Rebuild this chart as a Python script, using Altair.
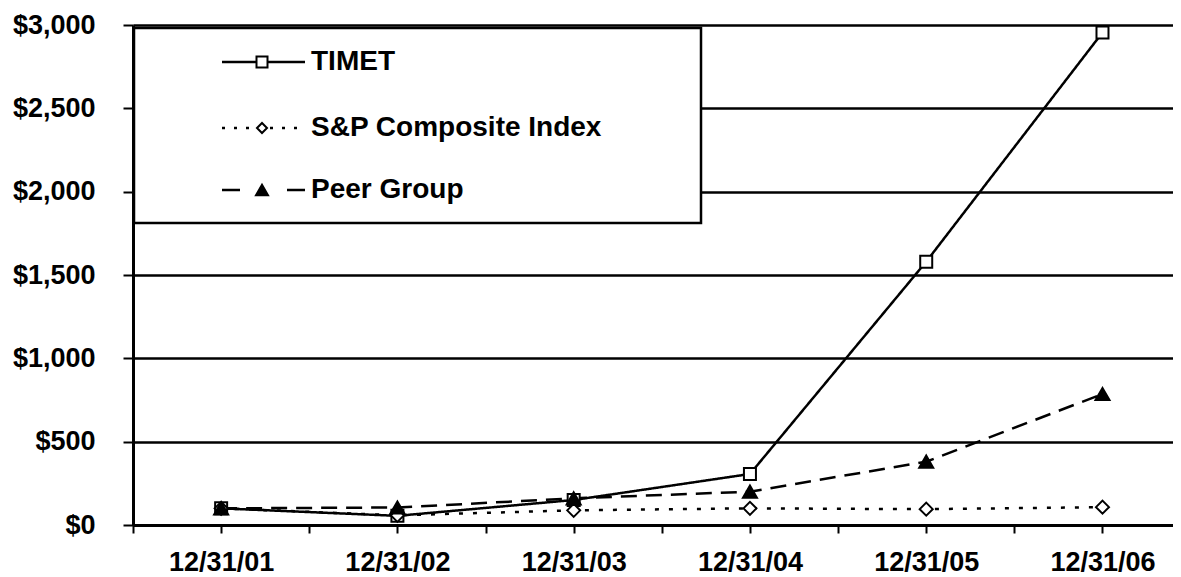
import json
import altair as alt
import pandas as pd

# ---------------- data ----------------
categories = ["12/31/01", "12/31/02", "12/31/03", "12/31/04", "12/31/05", "12/31/06"]
series_names = ["TIMET", "S&P Composite Index", "Peer Group"]
timet = [100, 55, 150, 306, 1580, 2955]
sp_composite = [100, 58, 88, 100, 95, 107]
peer_group = [100, 105, 160, 200, 380, 786]
y_tick_values = [0, 500, 1000, 1500, 2000, 2500, 3000]

rows = []
for s, vals in zip(series_names, [timet, sp_composite, peer_group]):
    for i, (c, v) in enumerate(zip(categories, vals)):
        rows.append({"series": s, "idx": i, "date": c, "value": v})
df = pd.DataFrame(rows)

FONT = "Liberation Sans"
W, H = 1040, 500

x_tick_values = [k / 2 for k in range(-1, 2 * len(categories) - 1)]
label_expr = ("datum.value == floor(datum.value) ? "
              + json.dumps(categories) + "[datum.value] : ''")

x_enc = alt.X(
    "idx:Q",
    scale=alt.Scale(domain=[-0.5, 5.40], nice=False, zero=False),
    axis=alt.Axis(
        values=x_tick_values, labelExpr=label_expr, title=None, grid=False,
        domainColor="black", domainWidth=3, tickColor="black", tickWidth=2,
        tickSize=8, labelFont=FONT, labelFontSize=27, labelFontWeight="bold",
        labelColor="black", labelPadding=16, labelOverlap=False, labelFlush=False,
    ),
)
y_enc = alt.Y(
    "value:Q",
    scale=alt.Scale(domain=[0, 3000], nice=False),
    axis=alt.Axis(
        values=y_tick_values, format="$,.0f", title=None, grid=True,
        gridColor="black", gridWidth=2.5, gridOpacity=1,
        domainColor="black", domainWidth=3, tickColor="black", tickWidth=2,
        tickSize=10, labelFont=FONT, labelFontSize=27, labelFontWeight="bold",
        labelColor="black", labelPadding=28,
    ),
)

styles = {
    "TIMET": dict(dash=[1, 0], shape="square", fill="white", size=144,
                  ldash=[1, 0], lsize=121),
    "S&P Composite Index": dict(dash=[4, 10], shape="diamond", fill="white", size=169,
                                ldash=[3, 9], lsize=100),
    "Peer Group": dict(dash=[16, 9], shape="triangle-up", fill="black", size=196,
                       ldash=[18, 47], lsize=144),
}

base = alt.Chart(df)
lines = []
points = []
for s in series_names:
    st = styles[s]
    flt = alt.datum.series == s
    lines.append(
        base.transform_filter(flt)
        .mark_line(color="black", strokeWidth=2.5, strokeDash=st["dash"])
        .encode(x=x_enc, y=y_enc)
    )
    points.append(
        base.transform_filter(flt)
        .mark_point(shape=st["shape"], filled=True, fill=st["fill"], stroke="black",
                    strokeWidth=2, size=st["size"], opacity=1)
        .encode(x=x_enc, y=y_enc)
    )

# ---------------- legend box (decoration) ----------------
legend_layers = [
    alt.Chart(alt.Data(values=[{"box": 1}]))
    .mark_rect(fill="white", stroke="black", strokeWidth=2.5)
    .encode(x=alt.value(1), x2=alt.value(568), y=alt.value(3), y2=alt.value(198))
]
row_y = [37, 103, 165]
for s, ry in zip(series_names, row_y):
    st = styles[s]
    src = alt.Chart(alt.Data(values=[{"series": s}]))
    legend_layers.append(
        src.mark_rule(color="black", strokeWidth=2.5, strokeDash=st["ldash"])
        .encode(x=alt.value(89), x2=alt.value(172), y=alt.value(ry))
    )
    legend_layers.append(
        src.mark_point(shape=st["shape"], filled=True, fill=st["fill"], stroke="black",
                       strokeWidth=2, size=st["lsize"], opacity=1)
        .encode(x=alt.value(129), y=alt.value(ry))
    )
    legend_layers.append(
        src.mark_text(align="left", baseline="middle", font=FONT, fontSize=28,
                      fontWeight="bold", color="black")
        .encode(x=alt.value(178), y=alt.value(ry), text="series:N")
    )

chart = (
    alt.layer(*lines, *points, *legend_layers)
    .properties(
        width=W, height=H,
        autosize=alt.AutoSizeParams(type="none"),
        padding={"left": 125, "top": 17, "right": 0, "bottom": 52},
        background="white",
    )
    .configure_view(stroke=None)
)

chart.save("out.html", embed_options={"renderer": "svg", "actions": False})
